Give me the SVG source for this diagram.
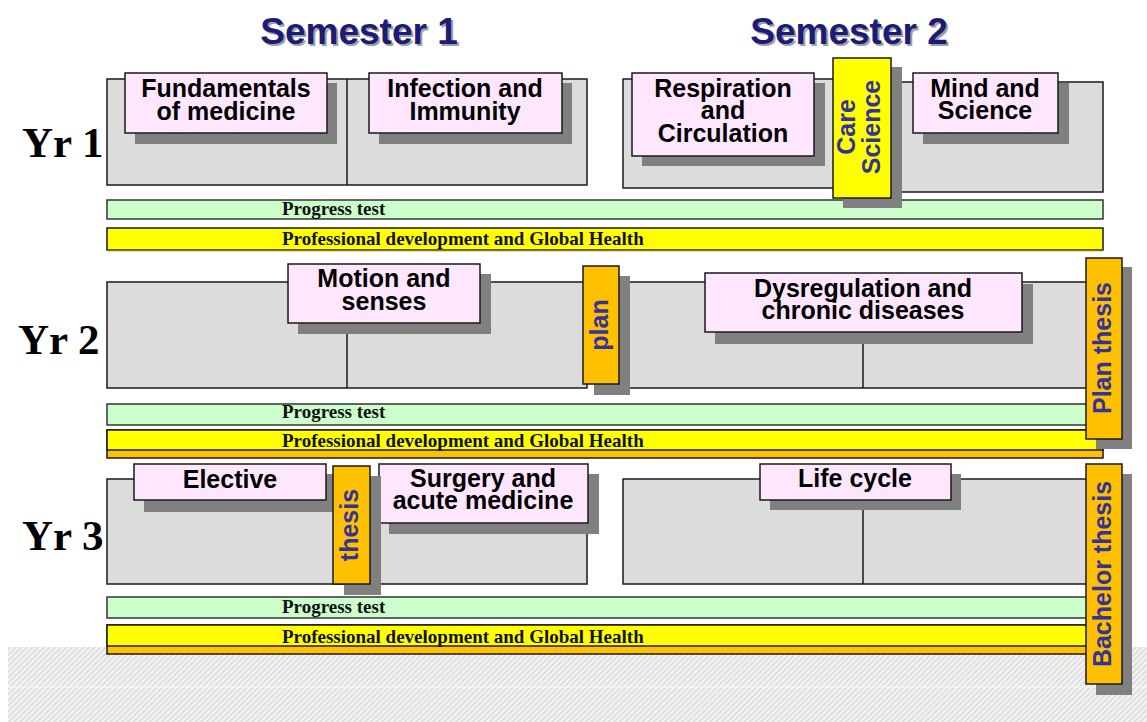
<svg xmlns="http://www.w3.org/2000/svg" width="1147" height="722" viewBox="0 0 1147 722">
<style>
.grey{fill:#dcdcdc;stroke:#1a1a1a;stroke-width:1.5}
.div{stroke:#1a1a1a;stroke-width:1.5}
.sh{fill:#808080}
.pink{fill:#ffe6ff;stroke:#1a1a1a;stroke-width:1.5}
.yel{fill:#ffff00;stroke:#1a1a1a;stroke-width:1.5}
.org{fill:#ffc000;stroke:#1a1a1a;stroke-width:1.5}
.grn{fill:#ccffcc;stroke:#333;stroke-width:1.5}
.lbl{font-family:"Liberation Sans",Arial,sans-serif;font-weight:bold;font-size:25px;fill:#000;text-anchor:middle}
.vl{font-family:"Liberation Sans",Arial,sans-serif;font-weight:bold;font-size:25px;fill:#333399;text-anchor:middle}
.bar{font-family:"Liberation Serif","Times New Roman",serif;font-weight:bold;font-size:19px;fill:#111}
.yr{font-family:"Liberation Serif","Times New Roman",serif;font-weight:bold;font-size:43px;fill:#000}
.sem{font-family:"Liberation Sans",Arial,sans-serif;font-weight:bold;font-size:37px;fill:#1c1c78;text-anchor:middle}
.semsh{font-family:"Liberation Sans",Arial,sans-serif;font-weight:bold;font-size:37px;fill:#a0a0a0;text-anchor:middle}
</style>
<defs>
<pattern id="hatch" width="4" height="4" patternUnits="userSpaceOnUse" patternTransform="rotate(45)">
<rect width="4" height="4" fill="#f3f3f3"/>
<rect width="1.5" height="4" fill="#dadada"/>
</pattern>
</defs>
<rect x="0" y="0" width="1147" height="722" fill="#ffffff"/>
<g id="background">
<rect x="8" y="647" width="1139" height="75" fill="url(#hatch)"/>
<line x1="8" y1="687" x2="1147" y2="687" stroke="#f8f8f8" stroke-width="1"/>
</g>
<g id="headings">
<text class="semsh" x="361" y="46">Semester 1</text>
<text class="sem" x="359" y="44">Semester 1</text>
<text class="semsh" x="851" y="46">Semester 2</text>
<text class="sem" x="849" y="44">Semester 2</text>
<text class="yr" x="22" y="157">Yr 1</text>
<text class="yr" x="18" y="354">Yr 2</text>
<text class="yr" x="22" y="550">Yr 3</text>
</g>
<g id="connectors"></g>
<g id="yr1-sem1">
<rect class="grey" x="107" y="79" width="480" height="106"/>
<line class="div" x1="347" y1="79" x2="347" y2="185"/>
</g>
<g id="yr1-sem2">
<rect class="grey" x="863" y="82" width="240" height="110"/>
<rect class="grey" x="623" y="79" width="240" height="109"/>
</g>
<g id="fundamentals">
<rect class="sh" x="135" y="83" width="202" height="61"/>
<rect class="pink" x="125" y="73" width="202" height="60"/>
<text class="lbl" x="226" y="97">Fundamentals</text>
<text class="lbl" x="226" y="120">of medicine</text>
</g>
<g id="infection">
<rect class="sh" x="379" y="83" width="193" height="61"/>
<rect class="pink" x="369" y="73" width="193" height="60"/>
<text class="lbl" x="465" y="97">Infection and</text>
<text class="lbl" x="465" y="120">Immunity</text>
</g>
<g id="respiration">
<rect class="sh" x="642" y="83" width="183" height="83"/>
<rect class="pink" x="632" y="73" width="182" height="83"/>
<text class="lbl" x="723" y="97">Respiration</text>
<text class="lbl" x="723" y="119">and</text>
<text class="lbl" x="723" y="142">Circulation</text>
</g>
<g id="mind">
<rect class="sh" x="923" y="83" width="146" height="61"/>
<rect class="pink" x="913" y="73" width="145" height="60"/>
<text class="lbl" x="985" y="97">Mind and</text>
<text class="lbl" x="985" y="119">Science</text>
</g>
<g id="yr1-bars">
<rect class="grn" x="107" y="200" width="996" height="19"/>
<text class="bar" x="282" y="215">Progress test</text>
<rect class="yel" x="107" y="228" width="996" height="22"/>
<line x1="107" y1="250.5" x2="1103" y2="250.5" stroke="#808000" stroke-width="1.5"/>
<text class="bar" x="282" y="245">Professional development and Global Health</text>
</g>
<g id="care-science">
<rect class="sh" x="843" y="67" width="59" height="141"/>
<rect class="yel" x="833" y="58" width="58" height="140"/>
<text class="vl" transform="translate(855,127) rotate(-90)">Care</text>
<text class="vl" transform="translate(880,127) rotate(-90)">Science</text>
</g>
<g id="yr2-sem1">
<rect class="grey" x="107" y="282" width="480" height="106"/>
<line class="div" x1="347" y1="282" x2="347" y2="388"/>
</g>
<g id="yr2-sem2">
<rect class="grey" x="623" y="282" width="477" height="106"/>
<line class="div" x1="863" y1="282" x2="863" y2="388"/>
</g>
<g id="motion">
<rect class="sh" x="298" y="274" width="193" height="60"/>
<rect class="pink" x="288" y="264" width="192" height="59"/>
<text class="lbl" x="384" y="287">Motion and</text>
<text class="lbl" x="384" y="310">senses</text>
</g>
<g id="dysregulation">
<rect class="sh" x="715" y="284" width="318" height="60"/>
<rect class="pink" x="705" y="273" width="317" height="59"/>
<text class="lbl" x="863" y="297">Dysregulation and</text>
<text class="lbl" x="863" y="319">chronic diseases</text>
</g>
<g id="plan">
<rect class="sh" x="594" y="276" width="36" height="119"/>
<rect class="org" x="583" y="266" width="36" height="118"/>
<text class="vl" transform="translate(608,325) rotate(-90)">plan</text>
</g>
<g id="yr2-bars">
<rect class="grn" x="107" y="404" width="996" height="21"/>
<text class="bar" x="282" y="418">Progress test</text>
<rect class="org" x="107" y="430" width="996" height="28"/>
<rect class="yel" x="107" y="430" width="996" height="20"/>
<text class="bar" x="282" y="447">Professional development and Global Health</text>
</g>
<g id="plan-thesis">
<rect class="sh" x="1096" y="267" width="36" height="182"/>
<rect class="org" x="1086" y="258" width="36" height="181"/>
<text class="vl" transform="translate(1111,348) rotate(-90)">Plan thesis</text>
</g>
<g id="yr3-sem1">
<rect class="grey" x="107" y="479" width="480" height="105"/>
</g>
<g id="yr3-sem2">
<rect class="grey" x="623" y="479" width="477" height="105"/>
<line class="div" x1="863" y1="479" x2="863" y2="584"/>
</g>
<g id="elective">
<rect class="sh" x="144" y="474" width="193" height="38"/>
<rect class="pink" x="134" y="464" width="192" height="36"/>
<text class="lbl" x="230" y="488">Elective</text>
</g>
<g id="surgery">
<rect class="sh" x="389" y="474" width="210" height="60"/>
<rect class="pink" x="379" y="464" width="209" height="59"/>
<text class="lbl" x="483" y="487">Surgery and</text>
<text class="lbl" x="483" y="509">acute medicine</text>
</g>
<g id="thesis">
<rect class="sh" x="344" y="476" width="37" height="119"/>
<rect class="org" x="333" y="466" width="37" height="118"/>
<text class="vl" transform="translate(358,525) rotate(-90)">thesis</text>
</g>
<g id="life-cycle">
<rect class="sh" x="770" y="474" width="191" height="36"/>
<rect class="pink" x="760" y="464" width="191" height="36"/>
<text class="lbl" x="855" y="487">Life cycle</text>
</g>
<g id="yr3-bars">
<rect class="grn" x="107" y="597" width="996" height="21"/>
<text class="bar" x="282" y="613">Progress test</text>
<rect class="org" x="107" y="625" width="996" height="29"/>
<rect class="yel" x="107" y="625" width="996" height="21"/>
<text class="bar" x="282" y="643">Professional development and Global Health</text>
</g>
<g id="bachelor-thesis">
<rect class="sh" x="1096" y="474" width="36" height="221"/>
<rect class="org" x="1086" y="464" width="36" height="220"/>
<text class="vl" transform="translate(1111,574) rotate(-90)">Bachelor thesis</text>
</g>
</svg>
